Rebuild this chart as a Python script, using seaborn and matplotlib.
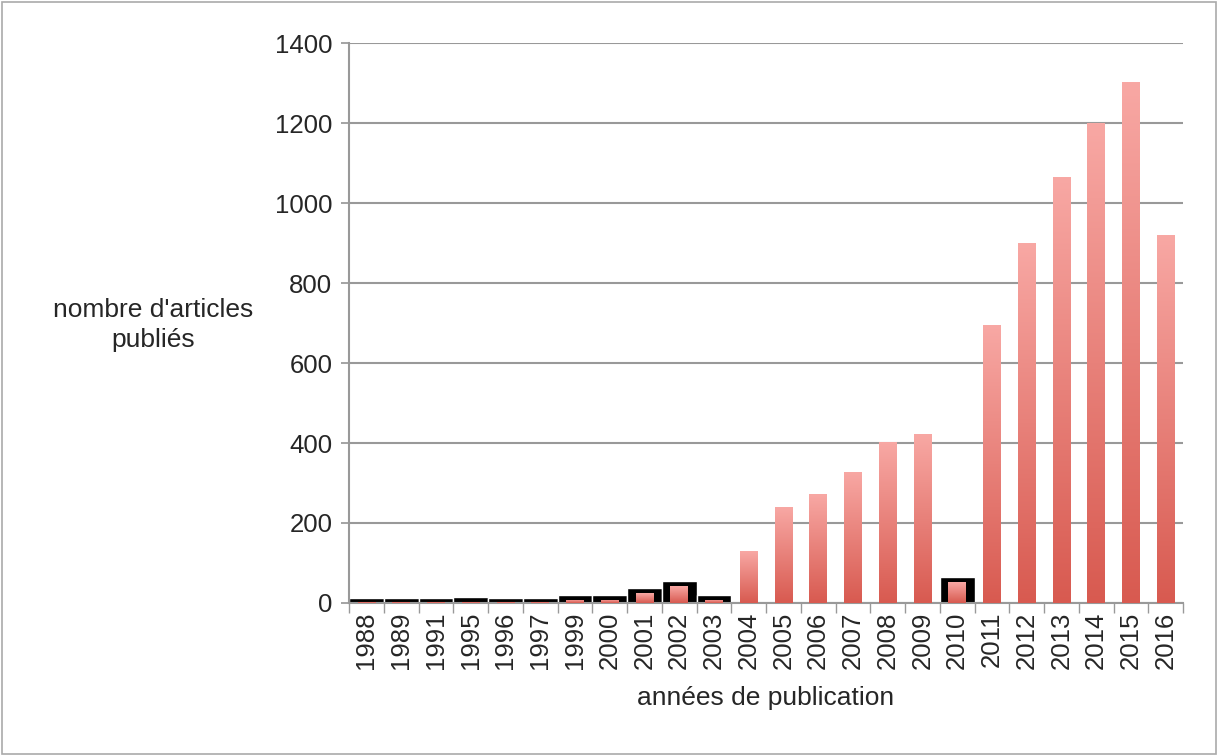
import matplotlib
matplotlib.use("Agg")
import matplotlib.pyplot as plt
import seaborn as sns
import numpy as np
import pandas as pd
from matplotlib.colors import LinearSegmentedColormap
from matplotlib.patches import Rectangle

years = ["1988","1989","1991","1995","1996","1997","1999","2000","2001","2002","2003","2004",
         "2005","2006","2007","2008","2009","2010","2011","2012","2013","2014","2015","2016"]
articles = [3,3,3,3,3,3,8,8,25,42,8,130,240,272,328,402,422,52,695,900,1065,1200,1302,920]
shadow = [12,12,12,15,12,12,20,20,37,55,20,0,0,0,0,0,0,65,0,0,0,0,0,0]

df = pd.DataFrame({"year": years, "n": articles, "s": shadow})

sns.set_theme(style="white")
plt.rcParams['font.family'] = ['Liberation Sans', 'DejaVu Sans']
fig = plt.figure(figsize=(12.18, 7.56), dpi=100)
ax = fig.add_axes([349/1218, 1-603/756, (1183-349)/1218, (603-43)/756])

sns.barplot(data=df, x="year", y="s", color="black", width=1.0, ax=ax, zorder=2,
            edgecolor="white", linewidth=1)
nshadow = len(ax.patches)
sns.barplot(data=df, x="year", y="n", color="#e06a62", width=0.5, ax=ax, zorder=3)

cmap = LinearSegmentedColormap.from_list("g", ["#d85a50", "#f8a8a4"])
grad = np.linspace(0, 1, 256).reshape(-1, 1)
for p in ax.patches[nshadow:]:
    x0, y0, w, h = p.get_x(), p.get_y(), p.get_width(), p.get_height()
    if h <= 0:
        continue
    im = ax.imshow(grad, cmap=cmap, aspect="auto", origin="lower",
                   extent=[x0, x0 + w, y0, y0 + h], zorder=4)
    im.set_clip_path(p)
    p.set_alpha(0)

ax.set_xlim(-0.5, len(years) - 0.5)
ax.set_ylim(0, 1400)
ax.set_yticks(range(0, 1401, 200))
ax.yaxis.grid(True, color="#999999", linewidth=1.5, zorder=0)
ax.set_axisbelow(True)
for s in ["top", "right"]:
    ax.spines[s].set_visible(False)
for s in ["left", "bottom"]:
    ax.spines[s].set_color("#999999")
    ax.spines[s].set_linewidth(1.5)
ax.tick_params(axis="x", rotation=90, labelsize=18.5, length=6, color="#999999", bottom=True, direction="out")
ax.tick_params(axis="y", labelsize=18.5, length=6, color="#999999", left=True, direction="out", pad=6)
ax.set_xticks(np.arange(-0.5, len(years), 1), minor=True)
ax.tick_params(axis="x", which="major", length=0, pad=6)
ax.tick_params(axis="x", which="minor", length=7, color="#999999", bottom=True)
ax.set_xlabel("années de publication", fontsize=19, labelpad=12)
ax.set_ylabel("")
fig.text(153/1218, 1-325/756, "nombre d'articles\npubliés", fontsize=19, ha="center", va="center",
         linespacing=1.3)
fig.patches.append(Rectangle((0.002, 0.002), 0.996, 0.996, transform=fig.transFigure,
                             fill=False, edgecolor="#aaaaaa", linewidth=1.2))
fig.savefig("out.png", dpi=100)
